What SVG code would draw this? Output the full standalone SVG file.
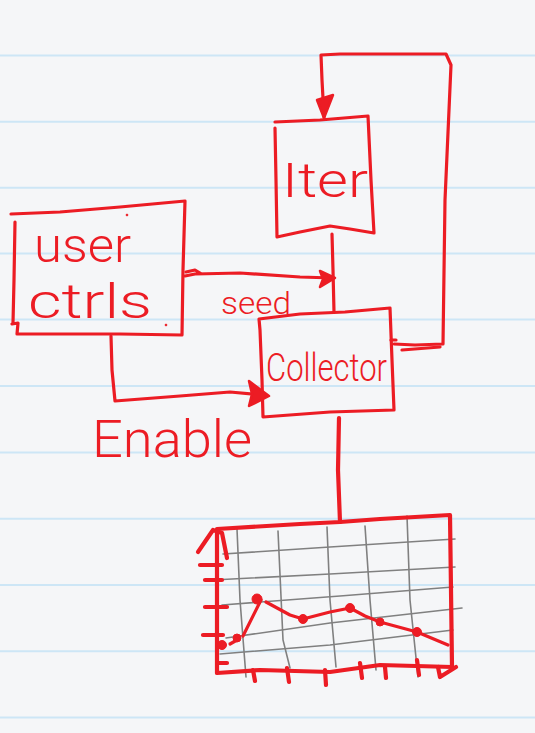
<svg xmlns="http://www.w3.org/2000/svg" width="535" height="733" viewBox="0 0 535 733">
<style>
.bg{fill:#f5f6f8}
.rule{stroke:#cde6f6;stroke-width:2}
.ink{fill:none;stroke:#ec1c24;stroke-width:3.2;stroke-linecap:round;stroke-linejoin:round}
.thick{stroke-width:4.2}
.head{fill:#ec1c24;stroke:#ec1c24;stroke-width:2.5;stroke-linejoin:round}
.grid{fill:none;stroke:#808080;stroke-width:1.6;stroke-linecap:round}
.dot{fill:#ec1c24;stroke:#ec1c24;stroke-width:1}
.lbl{fill:#ec1c24;font-family:Roboto,"Liberation Sans","DejaVu Sans",sans-serif;font-weight:300}
</style>
<rect class="bg" x="0" y="0" width="535" height="733"/>
<g id="ruling">
<line class="rule" x1="0" y1="55.5" x2="535" y2="55.5"/>
<line class="rule" x1="0" y1="121.7" x2="535" y2="121.7"/>
<line class="rule" x1="0" y1="187.8" x2="535" y2="187.8"/>
<line class="rule" x1="0" y1="253.5" x2="535" y2="253.5"/>
<line class="rule" x1="0" y1="319.5" x2="535" y2="319.5"/>
<line class="rule" x1="0" y1="386" x2="535" y2="386"/>
<line class="rule" x1="0" y1="452.5" x2="535" y2="452.5"/>
<line class="rule" x1="0" y1="518.8" x2="535" y2="518.8"/>
<line class="rule" x1="0" y1="585" x2="535" y2="585"/>
<line class="rule" x1="0" y1="651.3" x2="535" y2="651.3"/>
<line class="rule" x1="0" y1="717.5" x2="535" y2="717.5"/>
</g>
<g id="connectors">
<!-- seed: user ctrls -> collector -->
<path class="ink" d="M186,272 L195,270 L200,273 L185,276 M195,274 L240,273 L300,277 L333,278"/>
<path class="head" d="M320,271 L335,278 L320,287 L323,279 Z"/>
<!-- iter -> collector -->
<path class="ink" d="M332,234 L333,270 L334,312"/>
<!-- loop: collector -> iter -->
<path class="ink" d="M394,344 L415,345 L443,344 L445,200 L451,65 L446,54 L440,54 L390,54 L340,54 L321,55 L322,80 L324,117"/>
<path class="ink" d="M402,350 L440,347"/>
<path class="head" d="M317,100 L333,95 L324,118 Z"/>
<!-- enable: user ctrls -> collector -->
<path class="ink" d="M111,336 L112,370 L115,401 L180,396 L230,392 L262,395"/>
<path class="head" d="M249,381 L269,396 L249,406 L252,394 Z"/>
<!-- collector -> chart -->
<path class="ink thick" d="M339,418 L338,470 L340,522"/>
</g>
<g id="user-ctrls">
<path class="ink" d="M11,214 L60,212 L120,207 L185,201 L183,270 L182,335 L120,334 L17,334 L18,323 L12,324 M15,222 L14,280 L13,323"/>
<circle class="dot" cx="127" cy="215" r="0.9"/>
<circle class="dot" cx="166" cy="325" r="0.9"/>
<text class="lbl" x="34" y="262" font-size="48" textLength="97" lengthAdjust="spacingAndGlyphs">user</text>
<text class="lbl" x="28" y="318" font-size="48" textLength="124" lengthAdjust="spacingAndGlyphs">ctrls</text>
</g>
<g id="iter">
<path class="ink" d="M275,122 L320,120 L368,116 L371,180 L374,233 L350,229 L330,226 L300,232 L277,237 L276,180 L275,128"/>
<text class="lbl" x="282" y="197" font-size="48" textLength="86" lengthAdjust="spacingAndGlyphs">Iter</text>
</g>
<g id="seed-label">
<text class="lbl" x="221" y="314" font-size="31" textLength="70" lengthAdjust="spacingAndGlyphs">seed</text>
</g>
<g id="collector">
<path class="ink" d="M259,319 L300,314 L345,312 L390,308 L392,360 L394,410 L330,412 L263,417 L262,380 L260,330 Z"/>
<path class="ink" d="M391,340 L396,340"/>
<text class="lbl" x="266" y="381" font-size="38" textLength="121" lengthAdjust="spacingAndGlyphs">Collector</text>
</g>
<g id="enable-label">
<text class="lbl" x="92" y="457" font-size="52" textLength="160" lengthAdjust="spacingAndGlyphs">Enable</text>
</g>
<g id="chart">
<!-- grid -->
<path class="grid" d="M237,529 L240,600 L246,677"/>
<path class="grid" d="M278,531 L283,640 L290,668"/>
<path class="grid" d="M327,527 L330,600 L336,667"/>
<path class="grid" d="M365,526 L370,600 L376,670"/>
<path class="grid" d="M407,516 L410,600 L418,677"/>
<path class="grid" d="M223,554 L330,547 L455,539"/>
<path class="grid" d="M213,580 L330,574 L455,567"/>
<path class="grid" d="M222,605 L340,596 L453,587"/>
<path class="grid" d="M226,638 L330,623 L462,608"/>
<path class="grid" d="M220,654 L330,645 L453,630"/>
<!-- frame -->
<path class="ink thick" d="M217,529 L300,524 L340,522 L380,519 L450,515 L451,590 L452,667 L380,665 L330,672 L260,670 L217,673 L217,600 Z"/>
<path class="ink thick" d="M198,552 L213,530 L222,533 L227,558"/>
<!-- y ticks -->
<path class="ink thick" d="M200,565 L222,565 M205,580 L222,580 M205,607 L227,607 M203,635 L223,635 M219,663 L227,663"/>
<!-- x ticks -->
<path class="ink thick" d="M253,670 L255,681 M287,668 L289,682 M325,670 L326,685 M360,663 L362,678 M385,667 L386,678 M417,660 L419,675 M438,667 L440,677 L456,667"/>
<!-- data -->
<path class="ink" d="M243,636 L261,600 M266,602 L290,615 L303,619 L330,612 L350,608 L365,616 L380,622 L417,632 L448,645"/>
<path class="ink" d="M230,644 L237,640"/>
<circle class="dot" cx="222" cy="645" r="4.5"/>
<circle class="dot" cx="237" cy="638" r="4"/>
<circle class="dot" cx="257" cy="599" r="5"/>
<circle class="dot" cx="303" cy="619" r="4.5"/>
<circle class="dot" cx="350" cy="608" r="4.5"/>
<circle class="dot" cx="380" cy="622" r="4"/>
<circle class="dot" cx="417" cy="632" r="4.5"/>
</g>
</svg>
